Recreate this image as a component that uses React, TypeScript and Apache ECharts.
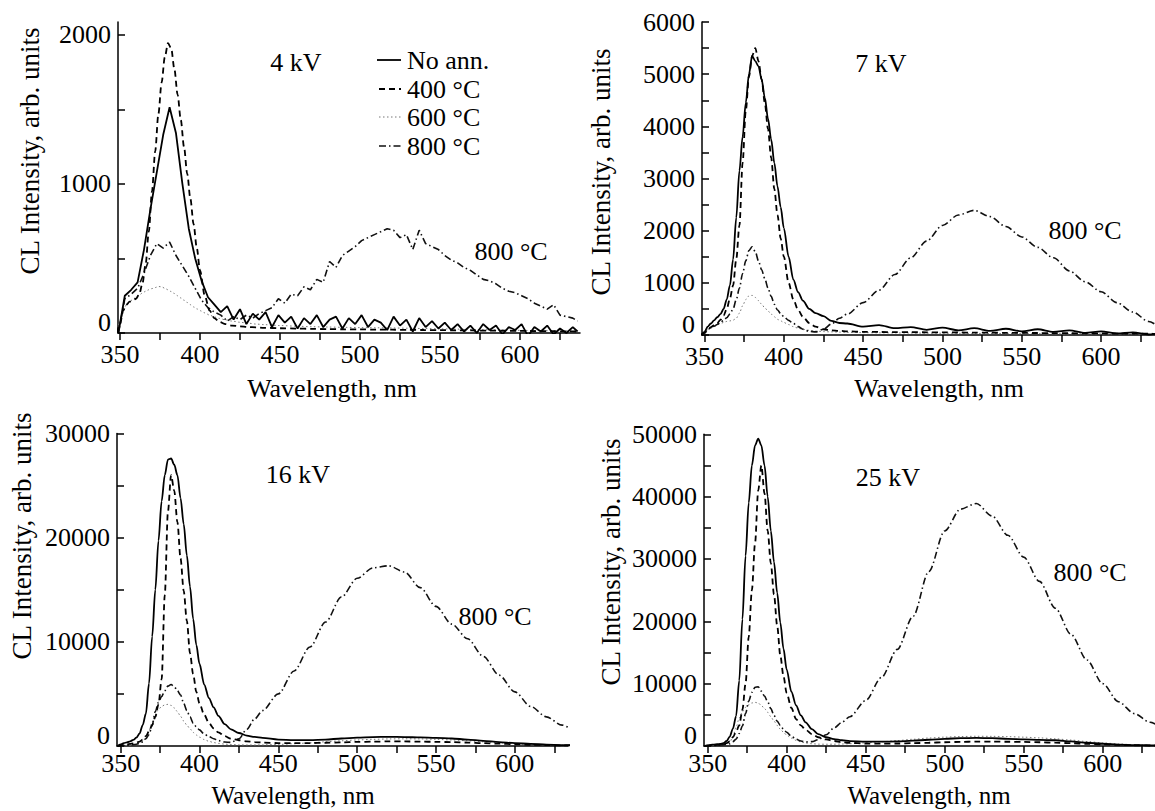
import React, { useEffect, useRef } from 'react';
import * as echarts from 'echarts';

const FONT = '"Liberation Serif", "Times New Roman", Times, serif';

// Common wavelength grid (nm) for smooth spectra
const WL = [348,350,352,354,356,358,360,362,364,366,368,370,372,374,376,378,380,382,384,386,388,390,392,394,396,398,400,403,406,409,412,416,420,425,430,435,440,450,460,470,480,490,500,510,520,530,540,550,560,570,580,590,600,610,620,630,636];
// Denser grid for the noisy 4 kV spectra
const WL_N = [349,353,357,361,365,369,373,377,381,385,389,393,397,401,405,409,413,417,421,425,429,433,437,441,445,449,453,457,461,465,469,473,477,481,485,489,493,497,501,505,509,513,517,521,525,529,533,537,541,545,549,553,557,561,565,569,573,577,581,585,589,593,597,601,605,609,613,617,621,625,629,633,636];

// ---- 4 kV ----
const KV4_NOANN = [0,250,290,340,560,830,1080,1330,1515,1340,1000,700,500,350,240,190,140,180,90,160,60,130,90,140,40,120,70,110,30,100,60,120,40,90,110,30,100,60,120,40,90,70,20,110,50,90,10,100,40,80,30,70,20,60,10,50,0,60,20,50,-10,40,20,60,-20,40,10,50,-10,30,0,40,10];
const KV4_400 = [0,60,150,190,210,220,230,260,330,460,680,950,1220,1470,1680,1850,1945,1910,1770,1600,1430,1250,1070,900,730,570,420,250,150,100,75,60,50,45,40,38,35,32,30,28,26,25,24,23,22,21,20,19,18,17,16,15,14,13,12,11,10];
const KV4_600 = [0,80,150,190,210,225,240,255,268,280,290,298,305,312,310,300,290,278,265,250,235,220,205,190,175,162,150,135,120,108,98,88,80,72,66,60,56,50,46,42,40,38,36,35,34,32,30,28,26,24,22,20,18,16,15,14,13];
const KV4_800 = [0,230,260,300,400,520,600,570,610,520,450,380,300,220,170,140,120,80,110,90,120,100,130,150,170,230,200,260,250,310,290,360,340,480,440,520,550,580,620,640,660,680,700,690,640,660,560,690,600,580,560,520,490,470,440,420,390,360,350,330,300,280,270,250,230,200,180,160,190,120,110,100,80];

// ---- 7 kV ----
const KV7_NOANN = [0,60,160,220,280,340,400,500,680,950,1450,2250,3150,3800,4450,5000,5350,5250,5150,4900,4550,4150,3750,3300,2850,2450,2050,1500,1060,820,660,500,420,360,270,230,220,160,190,130,150,100,140,90,130,80,120,70,110,60,90,40,70,30,50,10,30];
const KV7_400 = [0,40,100,150,190,230,290,370,500,700,950,1450,2100,3300,4300,4950,5350,5500,5250,4900,4450,3950,3400,2800,2300,1850,1500,1000,680,480,350,230,160,110,90,80,70,60,58,56,54,52,50,48,46,44,42,40,38,36,34,32,30,28,26,24,22];
const KV7_600 = [0,40,100,130,160,190,220,240,260,270,285,320,420,560,680,750,760,720,660,590,520,460,400,350,300,270,240,200,160,130,110,90,75,65,60,55,50,45,42,40,38,36,34,32,30,29,28,27,26,25,24,23,22,21,20,18,16];
const KV7_800 = [0,40,100,140,170,200,240,280,330,400,500,680,900,1180,1420,1620,1690,1600,1420,1250,1080,900,740,590,480,410,350,280,220,160,110,70,60,110,210,320,400,620,860,1160,1480,1800,2100,2300,2390,2270,2080,1880,1680,1480,1230,1020,830,620,440,260,170];

// ---- 16 kV ----
const KV16_NOANN = [0,150,270,350,450,580,800,1200,2000,3100,6000,10500,15000,19700,23500,26000,27500,27600,27000,26000,23800,21300,18300,15300,12200,9700,7900,5900,4600,3700,2900,2100,1600,1250,1000,870,780,620,560,560,620,720,800,860,880,860,820,780,720,620,500,380,280,200,140,90,70];
const KV16_400 = [0,50,100,150,200,260,330,420,620,950,1400,2000,2800,4000,6400,14500,22500,26000,24500,21500,18000,14900,12000,8900,6900,5200,4100,3000,2200,1700,1300,950,700,550,450,380,330,280,270,280,310,350,390,420,440,440,420,400,370,330,280,220,170,120,90,60,50];
const KV16_600 = [0,20,40,60,80,110,150,250,420,800,1500,2300,3000,3500,3800,3950,4000,3900,3650,3300,2850,2400,2000,1650,1300,1050,850,620,450,330,250,180,140,110,100,100,110,150,220,300,400,500,580,640,680,690,680,640,580,500,400,300,220,150,100,70,50];
const KV16_800 = [0,30,60,80,100,130,170,250,400,700,1100,2000,3300,4200,4750,5300,5750,5900,5700,5300,4900,4100,3400,2800,2200,1850,1550,1150,900,700,520,380,350,700,1600,2600,3400,5000,7200,9500,11900,14300,16100,17100,17300,16700,15200,13400,11700,10300,8600,6800,5200,3800,2800,2000,1600];

// ---- 25 kV ----
const KV25_NOANN = [0,100,180,230,280,350,450,800,1500,2800,4800,10500,20300,30500,39000,45000,48200,49300,48200,45000,40000,34500,29500,24600,19800,15600,12300,8700,6500,4900,3800,2700,1900,1400,1100,920,790,700,690,740,850,1000,1150,1250,1300,1250,1150,1050,980,920,750,520,360,230,150,100,80];
const KV25_400 = [0,50,90,130,170,220,300,450,750,1400,2300,3300,5800,10000,17500,25000,32500,41000,45000,40500,34500,29300,24300,19300,14500,11200,8500,6100,4300,3300,2600,1900,1400,1050,800,620,500,400,380,400,450,520,600,660,700,700,680,650,600,530,450,350,260,180,120,80,60];
const KV25_600 = [0,20,50,80,110,150,200,300,600,1500,3000,4500,5500,6200,6600,6900,7000,6900,6500,6000,5400,4700,4000,3300,2700,2200,1750,1250,900,650,480,360,300,280,290,320,370,500,680,870,1080,1280,1420,1520,1560,1550,1500,1420,1300,1150,950,720,500,330,200,120,90];
const KV25_800 = [0,30,60,90,120,160,200,260,350,700,1100,2000,3200,5200,7200,8600,9400,9500,8800,8000,7100,6000,4900,4000,3300,2700,2200,1550,1100,800,650,700,1000,1800,2900,3800,4700,7300,11000,15500,20800,28000,34500,38000,38900,36900,33800,30300,26400,22100,17900,13800,10000,7100,5200,3800,3200];

// Axis ticks / labels
const X_TICKS = [350,375,400,425,450,475,500,525,550,575,600,625];
const X_LABELS = [350,400,450,500,550,600];
const Y1_TICKS = [0,500,1000,1500,2000];
const Y1_LABELS = [0,1000,2000];
const Y2_TICKS = [0,500,1000,1500,2000,2500,3000,3500,4000,4500,5000,5500,6000];
const Y2_LABELS = [0,1000,2000,3000,4000,5000,6000];
const Y3_TICKS = [0,5000,10000,15000,20000,25000,30000];
const Y3_LABELS = [0,10000,20000,30000];
const Y4_TICKS = [0,5000,10000,15000,20000,25000,30000,35000,40000,45000,50000];
const Y4_LABELS = [0,10000,20000,30000,40000,50000];

const NAMES = ['No ann.', '400 °C', '600 °C', '800 °C'];
const PANEL_TITLES = ['4 kV', '7 kV', '16 kV', '25 kV'];

const STYLE: Record<string, any> = {
  'No ann.': { type: 'solid', dash: null, width: 1.8, color: '#000', z: 5 },
  '400 °C': { type: [6, 4], dash: [6, 4], width: 1.8, color: '#000', z: 4 },
  '600 °C': { type: [1.5, 2.5], dash: [1.5, 2.5], width: 1, color: '#777', z: 2 },
  '800 °C': { type: [7, 3, 1.5, 3], dash: [7, 3, 1.5, 3], width: 1.6, color: '#111', z: 3 },
};

const zip = (xs: number[], ys: number[]) => xs.map((x, i) => [x, ys[i]]);

const PANELS = [
  { grid: { left: 118, top: 22, width: 462, height: 311 }, xMin: 348.75, xMax: 637.5, yMax: 2087, yTicks: Y1_TICKS, yLabels: Y1_LABELS, labelMargin: 8,
    data: [zip(WL_N, KV4_NOANN), zip(WL, KV4_400), zip(WL, KV4_600), zip(WL_N, KV4_800)], smooth: [false, 0.3, 0.3, false] },
  { grid: { left: 702, top: 22, width: 453, height: 313 }, xMin: 348.4, xMax: 634.0, yMax: 6000, yTicks: Y2_TICKS, yLabels: Y2_LABELS, labelMargin: 8,
    data: [zip(WL, KV7_NOANN), zip(WL, KV7_400), zip(WL, KV7_600), zip(WL, KV7_800)], smooth: [0.3, 0.3, 0.3, 0.3] },
  { grid: { left: 117, top: 433.5, width: 451, height: 312.5 }, xMin: 347.7, xMax: 633.7, yMax: 30000, yTicks: Y3_TICKS, yLabels: Y3_LABELS, labelMargin: 4,
    data: [zip(WL, KV16_NOANN), zip(WL, KV16_400), zip(WL, KV16_600), zip(WL, KV16_800)], smooth: [0.3, 0.3, 0.3, 0.3] },
  { grid: { left: 704, top: 434.3, width: 451, height: 311.7 }, xMin: 347.7, xMax: 633.1, yMax: 50000, yTicks: Y4_TICKS, yLabels: Y4_LABELS, labelMargin: 4,
    data: [zip(WL, KV25_NOANN), zip(WL, KV25_400), zip(WL, KV25_600), zip(WL, KV25_800)], smooth: [0.3, 0.3, 0.3, 0.3] },
];

// Annotation positions (text centers)
const TITLE_POS = [[296, 62], [881, 63], [298, 474], [888, 477]];
const ANN800_POS = [[511, 251], [1085, 230], [495, 616], [1090, 572]];
const XNAME_POS = [[332, 388], [939, 388], [293, 795], [929, 795]];
const YNAME_POS = [[30, 151], [601, 172], [22, 536], [611, 562]];
const LEGEND_ROWS = [60, 89, 117, 146];

function txt(text: string, x: number, y: number, size: number, rotation = 0, align = 'center') {
  return {
    type: 'text', x, y, rotation, silent: true,
    style: {
      text, fill: '#000', fontSize: size, fontFamily: FONT,
      align, verticalAlign: 'middle', textAlign: align, textVerticalAlign: 'middle',
    },
  };
}

function buildOption() {
  const grids: any[] = [];
  const xAxes: any[] = [];
  const yAxes: any[] = [];
  const series: any[] = [];
  const axisColor = '#000';
  PANELS.forEach((p, i) => {
    grids.push({ ...p.grid, containLabel: false, outerBoundsMode: 'none' });
    xAxes.push({
      type: 'value', gridIndex: i, min: p.xMin, max: p.xMax,
      axisLine: { show: true, onZero: false, lineStyle: { color: axisColor, width: 1.5 } },
      axisTick: { show: true, inside: false, length: 7, customValues: X_TICKS, lineStyle: { color: axisColor, width: 1.5 } },
      axisLabel: { customValues: X_LABELS, color: '#000', fontSize: 26, fontFamily: FONT, margin: p.labelMargin, formatter: (v: number) => String(v) },
      splitLine: { show: false },
    });
    yAxes.push({
      type: 'value', gridIndex: i, min: 0, max: p.yMax,
      axisLine: { show: true, onZero: false, lineStyle: { color: axisColor, width: 1.5 } },
      axisTick: { show: true, inside: true, length: 7, customValues: p.yTicks, lineStyle: { color: axisColor, width: 1.5 } },
      axisLabel: {
        customValues: p.yLabels, color: '#000', fontSize: 26, fontFamily: FONT, margin: 7,
        formatter: (v: number) => (v === 0 ? '{z|0}' : String(v)),
        rich: { z: { fontSize: 26, fontFamily: FONT, color: '#000', padding: [0, 0, 22, 0] } },
      },
      splitLine: { show: false },
    });
    NAMES.forEach((name, k) => {
      const st = STYLE[name];
      series.push({
        type: 'line', name, xAxisIndex: i, yAxisIndex: i,
        data: p.data[k], symbol: 'none', showSymbol: false,
        smooth: p.smooth[k], smoothMonotone: 'x', clip: true, silent: true, z: st.z,
        itemStyle: { color: st.color },
        lineStyle: { color: st.color, width: st.width, type: st.type },
      });
    });
  });

  const graphics: any[] = [];
  PANELS.forEach((_, i) => {
    graphics.push(txt(PANEL_TITLES[i], TITLE_POS[i][0], TITLE_POS[i][1], 26));
    graphics.push(txt('800 °C', ANN800_POS[i][0], ANN800_POS[i][1], 26));
    graphics.push(txt('Wavelength, nm', XNAME_POS[i][0], XNAME_POS[i][1], i < 2 ? 26 : 25));
    graphics.push(txt('CL Intensity, arb. units', YNAME_POS[i][0], YNAME_POS[i][1], 27, Math.PI / 2));
  });
  // Legend (panel 1), drawn as sample lines + labels
  NAMES.forEach((name, k) => {
    const st = STYLE[name];
    const y = LEGEND_ROWS[k];
    graphics.push({
      type: 'line', silent: true,
      shape: { x1: k === 0 ? 377 : 379, y1: y, x2: 401, y2: y },
      style: { stroke: st.color, lineWidth: st.width, lineDash: st.dash },
    });
    graphics.push(txt(name, 407, y, 26, 0, 'left'));
  });

  return {
    animation: false,
    backgroundColor: '#fff',
    grid: grids,
    xAxis: xAxes,
    yAxis: yAxes,
    series,
    graphic: graphics,
  };
}

export default function App() {
  const ref = useRef<HTMLDivElement>(null);
  useEffect(() => {
    if (!ref.current) return;
    const chart = echarts.init(ref.current, null, { renderer: 'svg' });
    chart.setOption(buildOption() as any);
    return () => chart.dispose();
  }, []);
  return (
    <div
      ref={ref}
      style={{ position: 'absolute', left: 0, top: 0, width: 1155, height: 811, background: '#fff' }}
    />
  );
}
